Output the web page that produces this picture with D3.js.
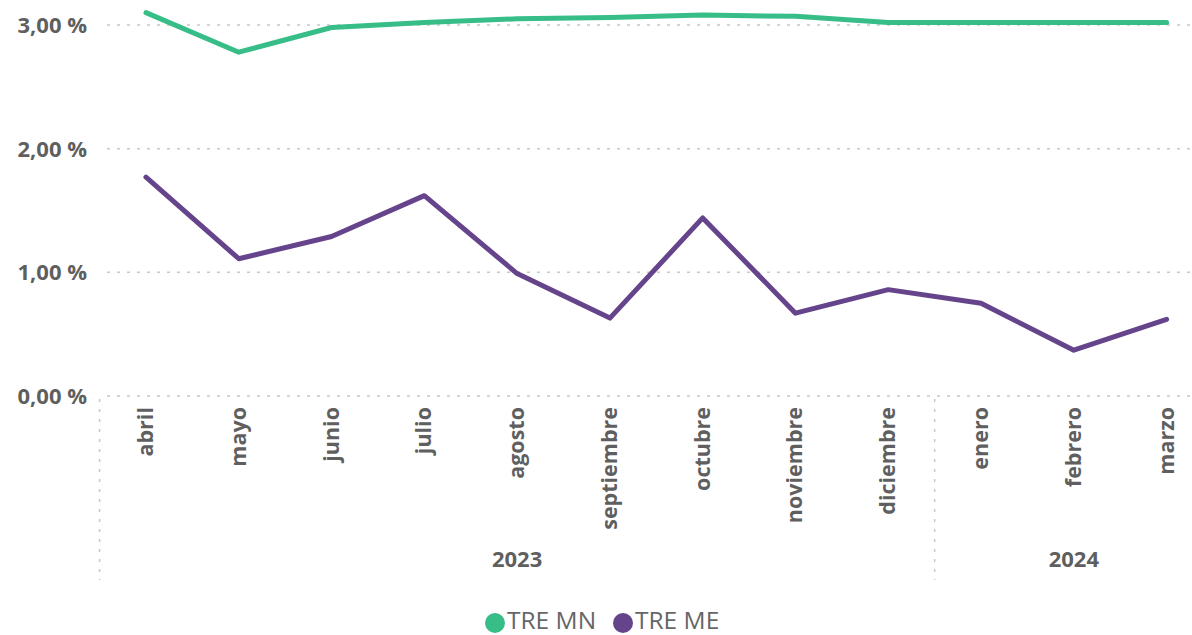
<!DOCTYPE html>
<html>
<head>
<meta charset="utf-8">
<script src="https://cdn.jsdelivr.net/npm/d3@7"></script>
<style>
  html, body { margin: 0; padding: 0; background: #fff; }
  svg { display: block; font-family: "Open Sans", "Noto Sans", sans-serif; }
</style>
</head>
<body>
<div id="chart"></div>
<script>
var months = ["abril","mayo","junio","julio","agosto","septiembre","octubre","noviembre","diciembre","enero","febrero","marzo"];
var years = [{year: "2023", from: 0, to: 8}, {year: "2024", from: 9, to: 11}];
var treMN = [3.10, 2.78, 2.98, 3.02, 3.05, 3.06, 3.08, 3.07, 3.02, 3.02, 3.02, 3.02];
var treME = [1.77, 1.11, 1.29, 1.62, 0.99, 0.63, 1.44, 0.67, 0.86, 0.75, 0.37, 0.62];
var yTicks = [0, 1, 2, 3];
var seriesNames = ["TRE MN", "TRE ME"];
var colors = ["#37bd87", "#65448c"];

var W = 1192, H = 635;
var svg = d3.select("#chart").append("svg").attr("width", W).attr("height", H);

var x = d3.scaleBand().domain(months).range([99.6, 1213]);
var y = d3.scaleLinear().domain([0, 3]).range([396, 25]);
var grey = "#5f5f5f";

// grid lines
svg.append("g").selectAll("line").data(yTicks).join("line")
  .attr("x1", 107).attr("x2", W)
  .attr("y1", function(d){ return y(d); }).attr("y2", function(d){ return y(d); })
  .attr("stroke", "#c8c8c8").attr("stroke-width", 1.5).attr("stroke-dasharray", "3,7");

// y labels
svg.append("g").selectAll("text").data(yTicks).join("text")
  .attr("x", 87).attr("y", function(d){ return y(d); }).attr("dy", "0.36em")
  .attr("text-anchor", "end").attr("font-size", 22).attr("font-weight", 700).attr("fill", grey)
  .text(function(d){ return d3.format(".2f")(d).replace(".", ",") + " %"; });

// vertical dotted separators
var seps = [x.range()[0], x(months[9])];
svg.append("g").selectAll("line").data(seps).join("line")
  .attr("x1", function(d){ return d; }).attr("x2", function(d){ return d; })
  .attr("y1", 399).attr("y2", 580)
  .attr("stroke", "#c8c8c8").attr("stroke-width", 1.5).attr("stroke-dasharray", "3,7");

// month labels
svg.append("g").selectAll("text").data(months).join("text")
  .attr("transform", function(d){ return "translate(" + (x(d) + x.bandwidth()/2 + 7) + ",407) rotate(-90)"; })
  .attr("text-anchor", "end").attr("font-size", 21.5).attr("font-weight", 700).attr("fill", grey)
  .text(function(d){ return d; });

// year labels
svg.append("g").selectAll("text").data(years).join("text")
  .attr("x", function(d){ return (x(months[d.from]) + x(months[d.to]) + x.bandwidth()) / 2; })
  .attr("y", 567).attr("text-anchor", "middle")
  .attr("font-size", 22).attr("font-weight", 700).attr("fill", grey)
  .text(function(d){ return d.year; });

// lines
var line = d3.line()
  .x(function(d, i){ return x(months[i]) + x.bandwidth()/2; })
  .y(function(d){ return y(d); });

[treMN, treME].forEach(function(s, i){
  svg.append("path").datum(s)
    .attr("d", line)
    .attr("fill", "none").attr("stroke", colors[i]).attr("stroke-width", 5)
    .attr("stroke-linejoin", "round").attr("stroke-linecap", "round");
});

// legend
var leg = svg.append("g");
var lx = [495, 623];
seriesNames.forEach(function(n, i){
  leg.append("circle").attr("cx", lx[i]).attr("cy", 623).attr("r", 10).attr("fill", colors[i]);
  leg.append("text").attr("x", lx[i] + 12).attr("y", 629)
    .attr("font-size", 24.5).attr("fill", "#666").text(n);
});
</script>
</body>
</html>
